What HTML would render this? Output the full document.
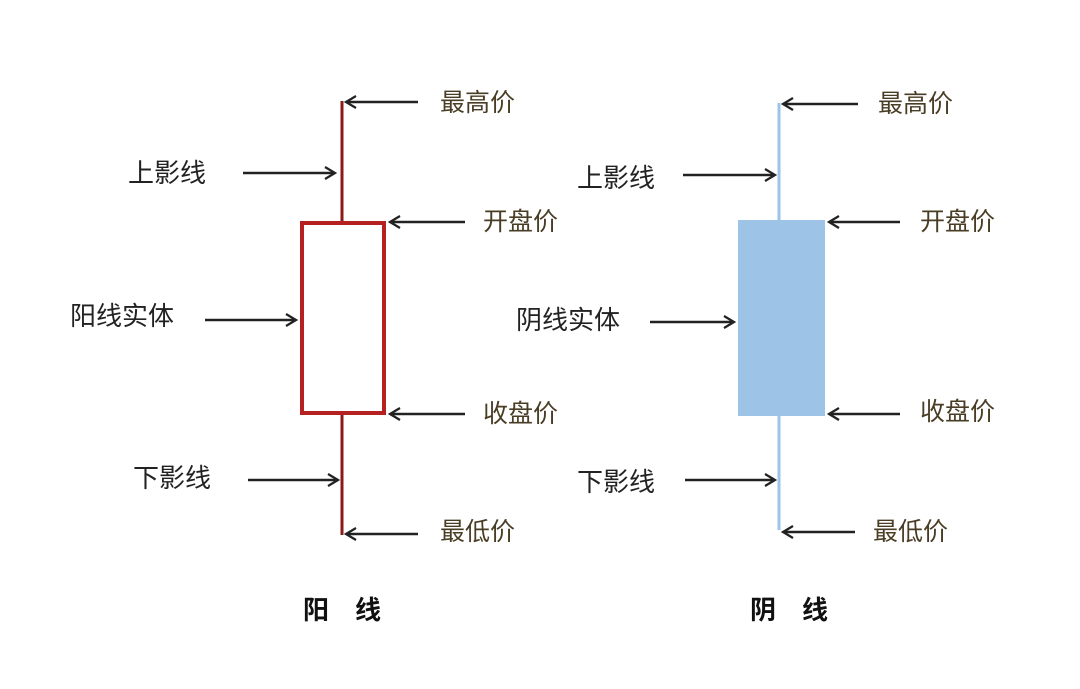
<!DOCTYPE html>
<html><head><meta charset="utf-8"><style>
html,body{margin:0;padding:0;background:#fff;}
svg text{font-family:"Liberation Sans","Noto Sans CJK SC",sans-serif;font-size:26px;fill:#222;dominant-baseline:central;}
.p{fill:#4a3d25;font-size:25px;}
.t{font-weight:bold;font-size:26px;fill:#111;}
</style></head><body>
<svg width="1080" height="684" viewBox="0 0 1080 684" xmlns="http://www.w3.org/2000/svg">
<defs>
<marker id="a" markerWidth="14" markerHeight="14" refX="12" refY="7" orient="auto" markerUnits="userSpaceOnUse">
<path d="M2,1 L12,7 L2,13" fill="none" stroke="#222" stroke-width="2.2"/>
</marker>
</defs>
<line x1="342" y1="101" x2="342" y2="535" stroke="#8b1a1a" stroke-width="3"/>
<rect x="302" y="223" width="82" height="190" fill="#fff" stroke="#b52020" stroke-width="4"/>
<g stroke="#222" stroke-width="2.5" marker-end="url(#a)">
<line x1="418" y1="102" x2="346" y2="102"/>
<line x1="243" y1="173" x2="335" y2="173"/>
<line x1="465" y1="222" x2="390" y2="222"/>
<line x1="205" y1="320" x2="296" y2="320"/>
<line x1="465" y1="414" x2="390" y2="414"/>
<line x1="248" y1="480" x2="338" y2="480"/>
<line x1="418" y1="534" x2="346" y2="534"/>
<line x1="858" y1="104" x2="783" y2="104"/>
<line x1="683" y1="175" x2="775" y2="175"/>
<line x1="900" y1="222" x2="829" y2="222"/>
<line x1="650" y1="322" x2="734" y2="322"/>
<line x1="900" y1="414" x2="829" y2="414"/>
<line x1="685" y1="480" x2="775" y2="480"/>
<line x1="855" y1="532" x2="783" y2="532"/>
</g>
<text x="440" y="103" class="p">最高价</text>
<text x="128" y="173">上影线</text>
<text x="483" y="222" class="p">开盘价</text>
<text x="70" y="316">阳线实体</text>
<text x="483" y="414" class="p">收盘价</text>
<text x="133" y="478">下影线</text>
<text x="440" y="532" class="p">最低价</text>
<text x="303" y="610" class="t">阳　线</text>
<line x1="779" y1="103" x2="779" y2="530" stroke="#9dc3e6" stroke-width="3"/>
<rect x="738" y="220" width="87" height="196" fill="#9dc3e6"/>
<text x="878" y="104" class="p">最高价</text>
<text x="577" y="178">上影线</text>
<text x="920" y="222" class="p">开盘价</text>
<text x="516" y="320">阴线实体</text>
<text x="920" y="412" class="p">收盘价</text>
<text x="577" y="482">下影线</text>
<text x="873" y="532" class="p">最低价</text>
<text x="750" y="610" class="t">阴　线</text>
</svg>
</body></html>
